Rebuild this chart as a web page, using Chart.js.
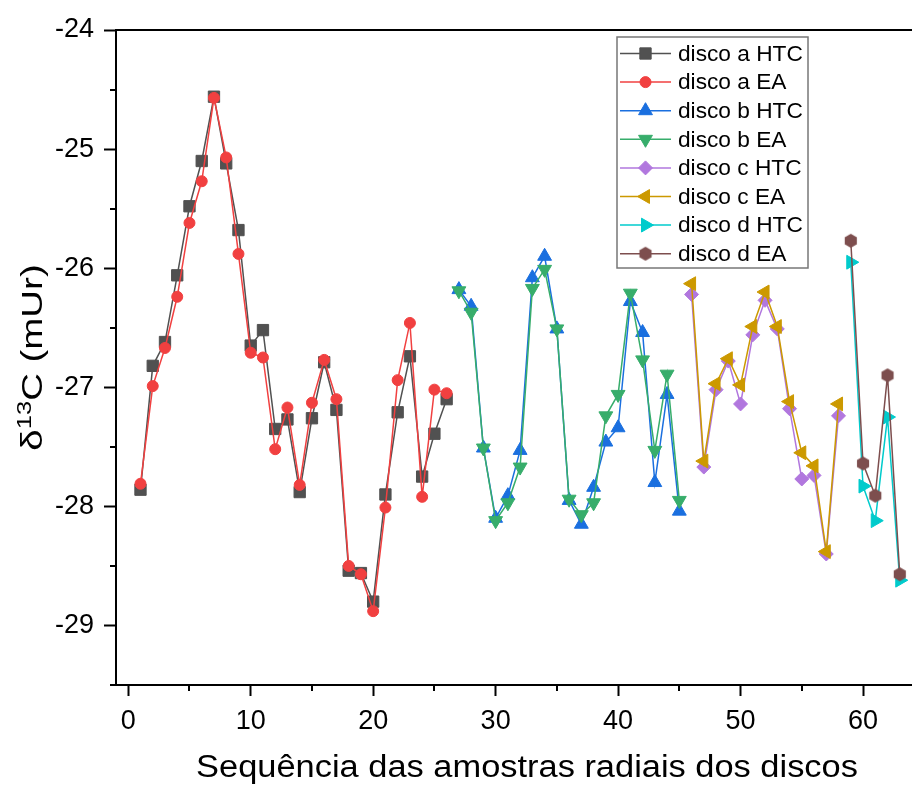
<!DOCTYPE html>
<html lang="pt-br">
<head>
<meta charset="UTF-8">
<title>δ13C - sequência radial dos discos</title>
<script src="https://cdn.jsdelivr.net/npm/chart.js"></script>
<style>
  body { margin: 0; background: #fff; }
  canvas { display: block; }
</style>
</head>
<body>
<canvas id="chart" width="912" height="785"></canvas>
<script>
// posição na sequência (eixo x) de cada disco
const seqA = [1,2,3,4,5,6,7,8,9,10,11,12,13,14,15,16,17,18,19,20,21,22,23,24,25,26];
const seqB = [27,28,29,30,31,32,33,34,35,36,37,38,39,40,41,42,43,44,45];
const seqC = [46,47,48,49,50,51,52,53,54,55,56,57,58];
const seqD = [59,60,61,62,63];

// valores de δ13C (mUr)
const discoA_HTC = [-27.86,-26.82,-26.62,-26.06,-25.48,-25.10,-24.56,-25.12,-25.68,-26.65,-26.52,-27.35,-27.27,-27.88,-27.26,-26.79,-27.19,-28.54,-28.56,-28.80,-27.90,-27.21,-26.74,-27.75,-27.39,-27.10];
const discoA_EA  = [-27.81,-26.99,-26.67,-26.24,-25.62,-25.27,-24.57,-25.07,-25.88,-26.71,-26.75,-27.52,-27.17,-27.82,-27.13,-26.77,-27.10,-28.50,-28.57,-28.88,-28.01,-26.94,-26.46,-27.92,-27.02,-27.05];
const discoB_HTC = [-26.18,-26.32,-27.51,-28.10,-27.91,-27.53,-26.08,-25.90,-26.51,-27.95,-28.15,-27.84,-27.46,-27.34,-26.28,-26.54,-27.80,-27.06,-28.04];
const discoB_EA  = [-26.19,-26.37,-27.51,-28.12,-27.97,-27.67,-26.17,-26.01,-26.51,-27.94,-28.07,-27.97,-27.24,-27.06,-26.21,-26.77,-27.53,-26.89,-27.95];
const discoC_HTC = [-26.22,-27.67,-27.02,-26.78,-27.14,-26.56,-26.27,-26.51,-27.18,-27.77,-27.74,-28.40,-27.24];
const discoC_EA  = [-26.13,-27.62,-26.97,-26.76,-26.98,-26.49,-26.20,-26.49,-27.12,-27.55,-27.66,-28.38,-27.14];
const discoD_HTC = [-25.95,-27.83,-28.12,-27.25,-28.62];
const discoD_EA  = [-25.77,-27.64,-27.91,-26.90,-28.57];

const seriesNames = ['disco a HTC','disco a EA','disco b HTC','disco b EA','disco c HTC','disco c EA','disco d HTC','disco d EA'];

const xTicks = [0,10,20,30,40,50,60];
const xMinor = [5,15,25,35,45,55];
const yTicks = [-29,-28,-27,-26,-25,-24];
const yMinor = [-29.5,-28.5,-27.5,-26.5,-25.5,-24.5];

const xTitle = 'Sequência das amostras radiais dos discos';

const FONT = 'Liberation Sans, Arial, sans-serif';

// hexágono para o disco d EA (não existe no Chart.js)
function hexagon(color, r) {
  const c = document.createElement('canvas');
  const s = Math.ceil(r * 2 + 2);
  c.width = s; c.height = s;
  const g = c.getContext('2d');
  g.fillStyle = color;
  g.beginPath();
  for (let i = 0; i < 6; i++) {
    const a = Math.PI / 3 * i + Math.PI / 2;
    const px = s / 2 + r * Math.cos(a), py = s / 2 + r * Math.sin(a);
    if (i === 0) g.moveTo(px, py); else g.lineTo(px, py);
  }
  g.closePath();
  g.fill();
  return c;
}

function pts(xs, ys) {
  return xs.map((x, i) => ({ x: x, y: ys[i] }));
}

const styles = [
  { color: '#515151', pointStyle: 'rect', rotation: 0, radius: 8 },
  { color: '#F14040', pointStyle: 'circle', rotation: 0, radius: 5.5 },
  { color: '#1A6FDF', pointStyle: 'triangle', rotation: 0, radius: 8 },
  { color: '#37AD6B', pointStyle: 'triangle', rotation: 180, radius: 8 },
  { color: '#B177DE', pointStyle: 'rectRot', rotation: 0, radius: 7 },
  { color: '#CC9900', pointStyle: 'triangle', rotation: 270, radius: 8 },
  { color: '#00CBCC', pointStyle: 'triangle', rotation: 90, radius: 8 },
  { color: '#7D4E4E', pointStyle: hexagon('#7D4E4E', 7), rotation: 0, radius: 7 }
];

const seriesData = [
  pts(seqA, discoA_HTC), pts(seqA, discoA_EA),
  pts(seqB, discoB_HTC), pts(seqB, discoB_EA),
  pts(seqC, discoC_HTC), pts(seqC, discoC_EA),
  pts(seqD, discoD_HTC), pts(seqD, discoD_EA)
];

const datasets = seriesData.map(function(d, i) {
  const st = styles[i];
  return {
    label: seriesNames[i],
    data: d,
    borderColor: st.color,
    backgroundColor: st.color,
    borderWidth: 1.5,
    pointStyle: st.pointStyle,
    pointRotation: st.rotation,
    pointRadius: st.radius,
    pointBorderWidth: 1,
    pointBorderColor: st.color,
    pointBackgroundColor: st.color,
    fill: false,
    tension: 0,
    order: 10 - i  // séries seguintes desenhadas por cima
  };
});

// títulos dos eixos (com sobrescrito), linha superior, ticks menores e legenda
const extras = {
  id: 'extras',
  afterDraw: function(chart) {
    const ctx = chart.ctx;
    const a = chart.chartArea;
    const xs = chart.scales.x, ys = chart.scales.y;
    ctx.save();
    ctx.strokeStyle = '#000';
    ctx.lineWidth = 2;
    ctx.beginPath();
    ctx.moveTo(a.left - 1, a.top);
    ctx.lineTo(a.right, a.top);
    xMinor.forEach(function(v) {
      const px = Math.round(xs.getPixelForValue(v));
      ctx.moveTo(px, a.bottom);
      ctx.lineTo(px, a.bottom + 6);
    });
    yMinor.forEach(function(v) {
      const py = Math.round(ys.getPixelForValue(v));
      ctx.moveTo(a.left, py);
      ctx.lineTo(a.left - 6, py);
    });
    ctx.stroke();

    ctx.fillStyle = '#000';
    ctx.textBaseline = 'alphabetic';

    // título do eixo x
    ctx.save();
    ctx.translate(527, 777);
    ctx.scale(1.11, 1);
    ctx.font = '31px ' + FONT;
    ctx.textAlign = 'center';
    ctx.fillText(xTitle, 0, 0);
    ctx.restore();

    // título do eixo y: δ13C (mUr)
    ctx.save();
    ctx.translate(42, (a.top + a.bottom) / 2);
    ctx.rotate(-Math.PI / 2);
    ctx.scale(1.28, 1);
    const big = '30px ' + FONT, small = '20px ' + FONT;
    ctx.font = big;
    const w1 = ctx.measureText('δ').width, w3 = ctx.measureText('C (mUr)').width;
    ctx.font = small;
    const w2 = ctx.measureText('13').width;
    let tx = -(w1 + w2 + w3) / 2;
    ctx.textAlign = 'left';
    ctx.font = big; ctx.fillText('δ', tx, 0); tx += w1;
    ctx.font = small; ctx.fillText('13', tx, -11); tx += w2;
    ctx.font = big; ctx.fillText('C (mUr)', tx, 0);
    ctx.restore();

    // legenda
    const bx = 617, by = 37, bw = 191, bh = 231;
    ctx.fillStyle = '#fff';
    ctx.fillRect(bx, by, bw, bh);
    ctx.strokeStyle = '#777';
    ctx.lineWidth = 1.5;
    ctx.strokeRect(bx, by, bw, bh);
    ctx.font = '22.7px ' + FONT;
    ctx.textBaseline = 'middle';
    ctx.textAlign = 'left';
    seriesNames.forEach(function(name, i) {
      const st = styles[i];
      const cy = 53.5 + i * 28.6;
      ctx.strokeStyle = st.color;
      ctx.lineWidth = 1.5;
      ctx.beginPath();
      ctx.moveTo(620, cy);
      ctx.lineTo(671, cy);
      ctx.stroke();
      ctx.fillStyle = st.color;
      ctx.strokeStyle = st.color;
      ctx.lineWidth = 1;
      Chart.helpers.drawPoint(ctx, { pointStyle: st.pointStyle, rotation: st.rotation, radius: st.radius, borderWidth: 1 }, 645.5, cy);
      ctx.fillStyle = '#000';
      ctx.fillText(name, 678, cy + 1);
    });
    ctx.restore();
  }
};

const ctx = document.getElementById('chart').getContext('2d');
const chart = new Chart(ctx, {
  type: 'line',
  data: { datasets: datasets },
  options: {
    responsive: false,
    animation: false,
    devicePixelRatio: 1,
    layout: { autoPadding: false, padding: { top: 30, right: 0, left: 0, bottom: 0 } },
    plugins: { legend: { display: false }, tooltip: { enabled: false } },
    scales: {
      x: {
        type: 'linear',
        min: -1,
        max: 64,
        afterBuildTicks: function(s) { s.ticks = xTicks.map(v => ({ value: v })); },
        afterFit: function(s) { s.height = 100; s.paddingLeft = 0; s.paddingRight = 0; },
        grid: { drawOnChartArea: false, drawTicks: true, tickLength: 11, tickWidth: 2, tickColor: '#000' },
        border: { display: true, width: 2, color: '#000' },
        ticks: { color: '#000', font: { family: FONT, size: 27 }, padding: 9, maxRotation: 0, callback: v => String(v) },
        title: { display: false }
      },
      y: {
        type: 'linear',
        min: -29.5,
        max: -24,
        afterBuildTicks: function(s) { s.ticks = yTicks.map(v => ({ value: v })); },
        afterFit: function(s) { s.width = 116; s.paddingTop = 0; s.paddingBottom = 0; },
        grid: { drawOnChartArea: false, drawTicks: true, tickLength: 12, tickWidth: 2, tickColor: '#000' },
        border: { display: true, width: 2, color: '#000' },
        ticks: { color: '#000', font: { family: FONT, size: 27 }, padding: 10, callback: v => String(v) },
        title: { display: false }
      }
    }
  },
  plugins: [extras]
});
</script>
</body>
</html>
